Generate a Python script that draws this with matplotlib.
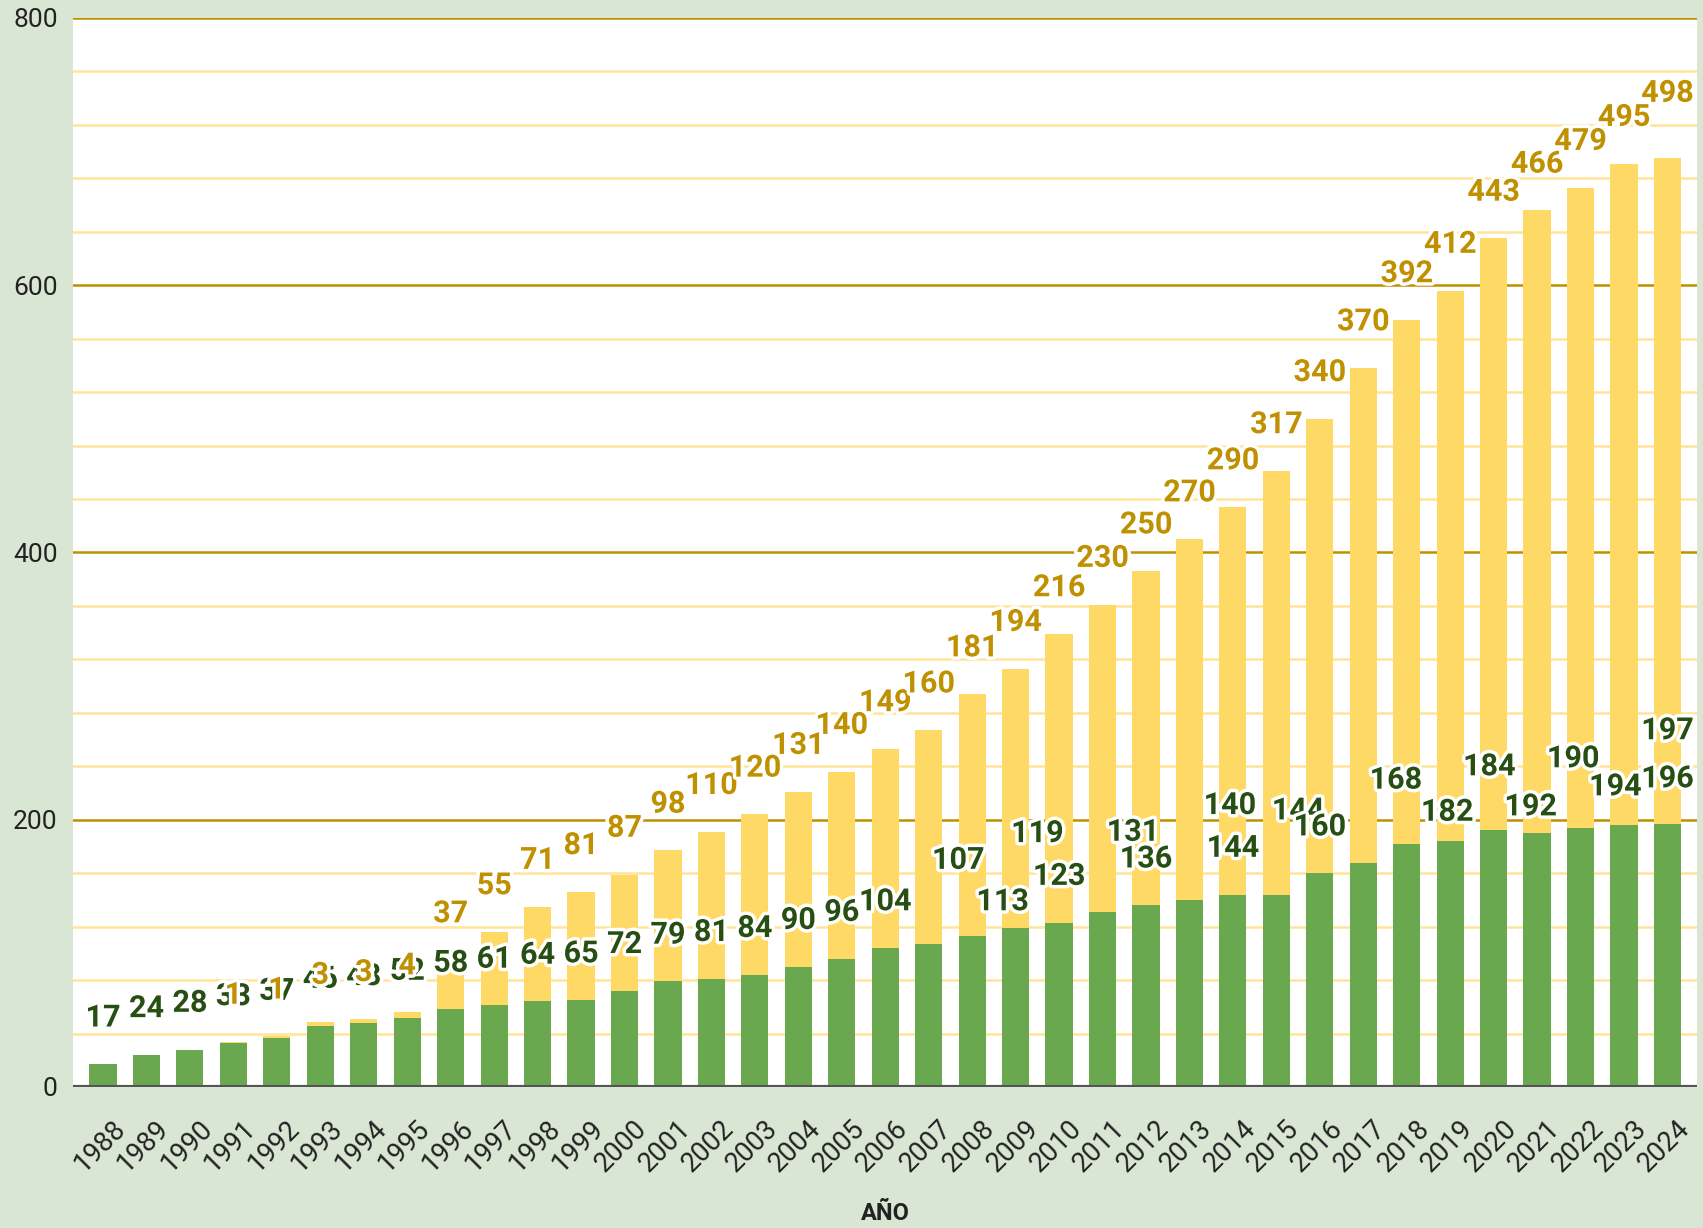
import matplotlib.pyplot as plt
import matplotlib.patheffects as pe
from matplotlib.transforms import ScaledTranslation
from matplotlib.ticker import MultipleLocator
import numpy as np

# Data
years = [1988, 1989, 1990, 1991, 1992, 1993, 1994, 1995, 1996, 1997,
         1998, 1999, 2000, 2001, 2002, 2003, 2004, 2005, 2006, 2007,
         2008, 2009, 2010, 2011, 2012, 2013, 2014, 2015, 2016, 2017,
         2018, 2019, 2020, 2021, 2022, 2023, 2024]
green = [17, 24, 28, 33, 37, 46, 48, 52, 58, 61,
         64, 65, 72, 79, 81, 84, 90, 96, 104, 107,
         113, 119, 123, 131, 136, 140, 144, 144, 160, 168,
         182, 184, 192, 190, 194, 196, 197]
yellow = [0, 0, 0, 1, 1, 3, 3, 4, 37, 55,
          71, 81, 87, 98, 110, 120, 131, 140, 149, 160,
          181, 194, 216, 230, 250, 270, 290, 317, 340, 370,
          392, 412, 443, 466, 479, 495, 498]

# label nudges (category shift, value shift) to mimic the original overlap handling
green_nudge = {2007: (0.68, 28), 2008: (0.7, -9), 2009: (0.5, 36), 2011: (0.7, 25),
               2013: (0.93, 36), 2015: (0.5, 28), 2017: (0.75, 27), 2018: (0.93, -11),
               2019: (0.9, 21), 2020: (0.85, -17), 2021: (0.83, 21), 2022: (0.8, -4),
               2023: (1.0, 0), 2024: (0.0, 35)}
yellow_nudge = {2024: (0.0, 14)}

GREEN = "#6aa84f"
YELLOW = "#ffd966"
DARK_GREEN = "#274e13"
DARK_GOLD = "#bf9000"
BG = "#d9e6d3"

plt.rcParams['font.family'] = ['Roboto', 'DejaVu Sans']

fig = plt.figure(figsize=(17.03, 12.28), dpi=100, facecolor=BG)
ax = fig.add_axes([73 / 1703, 1 - 1087 / 1228, (1697 - 73) / 1703, (1087 - 18) / 1228])
ax.set_facecolor("white")

x = np.arange(len(years))
g = np.array(green)
yv = np.array(yellow)

ax.bar(x, g, width=0.625, color=GREEN, zorder=2)
ax.bar(x, yv, bottom=g, width=0.625, color=YELLOW, zorder=2)

ax.set_xlim(-0.69, len(years) - 1 + 0.68)
ax.set_ylim(0, 800)
ax.yaxis.set_major_locator(MultipleLocator(200))
ax.yaxis.set_minor_locator(MultipleLocator(40))
ax.grid(which="major", axis="y", color=DARK_GOLD, lw=1.8, zorder=0)
ax.grid(which="minor", axis="y", color="#ffe599", lw=1.8, zorder=0)
ax.set_axisbelow(True)
ax.axhline(0, color="#555555", lw=3, zorder=3)
for s in ax.spines.values():
    s.set_visible(False)

ax.tick_params(axis="both", which="both", length=0)
ax.tick_params(axis="y", labelsize=19, labelcolor="#222222", pad=11)
ax.set_xticks(x)
ax.set_xticklabels([str(v) for v in years], rotation=45, ha="right",
                   rotation_mode="anchor", fontsize=19.5, color="#222222")
ax.tick_params(axis="x", pad=20)
shift = ScaledTranslation(9 / 100, 0, fig.dpi_scale_trans)
for lab in ax.get_xticklabels():
    lab.set_transform(lab.get_transform() + shift)

halo = [pe.withStroke(linewidth=5, foreground="white")]
OFF = 35

for i, yr in enumerate(years):
    dx, dv = green_nudge.get(yr, (0, 0))
    ax.text(i + dx, green[i] + OFF + dv, str(green[i]), ha="center", va="center",
            fontsize=22, fontweight="bold", color=DARK_GREEN,
            path_effects=halo, zorder=5)

for i, yr in enumerate(years):
    if yellow[i] == 0:
        continue
    dx, dv = yellow_nudge.get(yr, (0, 0))
    ax.text(i + dx, green[i] + yellow[i] + OFF + dv, str(yellow[i]), ha="center",
            va="center", fontsize=22, fontweight="bold", color=DARK_GOLD,
            path_effects=halo, zorder=6)

fig.text((73 + 1697) / 2 / 1703, 1 - 1213 / 1228, "AÑO", ha="center", va="center",
         fontsize=17, fontweight="bold", color="#222222")

fig.savefig("out.png", dpi=100, facecolor=BG)
